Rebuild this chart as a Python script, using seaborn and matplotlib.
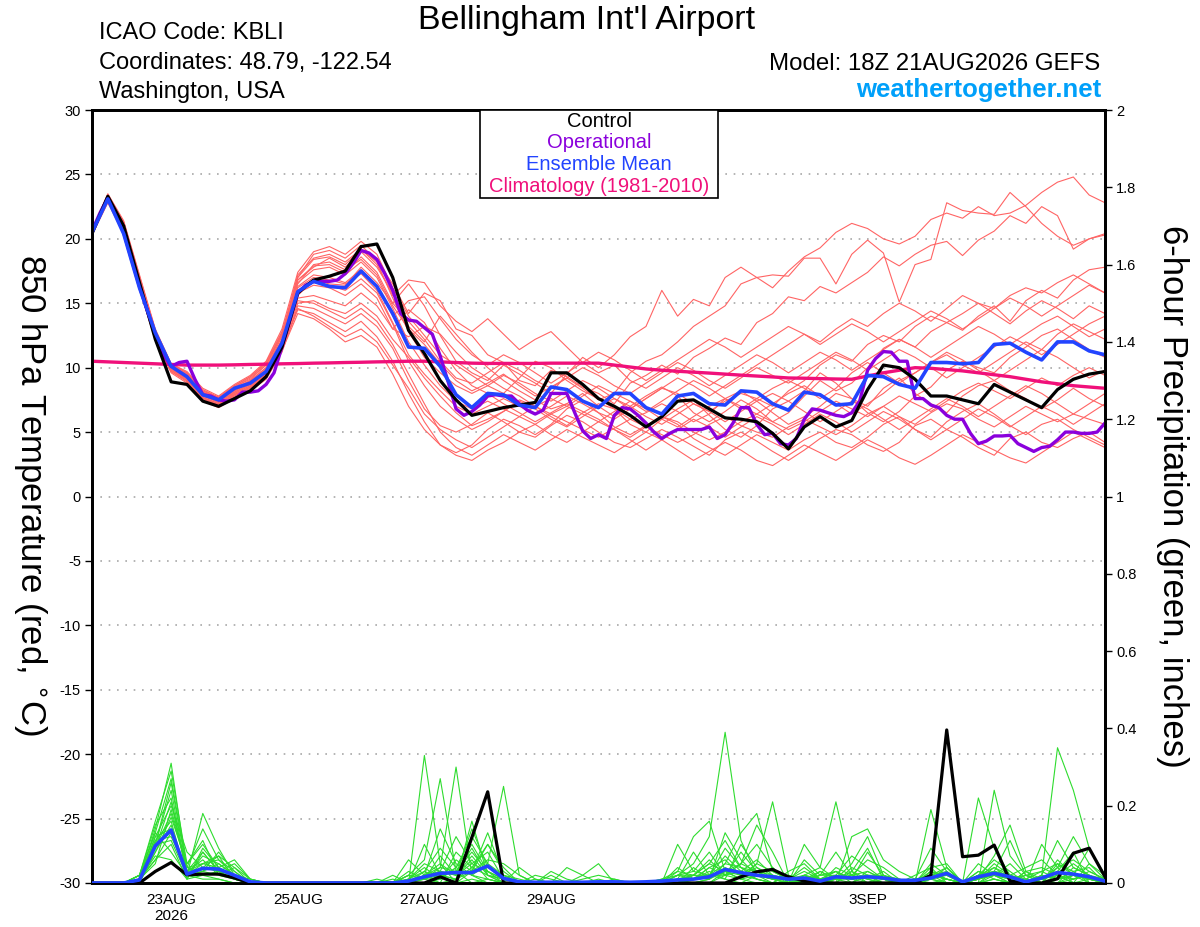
import numpy as np
import pandas as pd
import matplotlib
matplotlib.use("Agg")
import matplotlib.pyplot as plt
from matplotlib.patches import Rectangle
from matplotlib.ticker import FuncFormatter, MultipleLocator
import seaborn as sns

# ==========================================
# 1. Data (GEFS 18Z 21AUG2026, KBLI)
# ==========================================
RUN_START = "2026-08-21 18:00"
N_STEPS = 65   # 6-hourly, 16 days
N_OPER = 129   # operational run is 3-hourly

TICK_DAYS = ["2026-08-23", "2026-08-25", "2026-08-27", "2026-08-29",
             "2026-09-01", "2026-09-03", "2026-09-05"]
TICK_LABELS = ["23AUG\n2026", "25AUG", "27AUG", "29AUG", "1SEP", "3SEP", "5SEP"]

# 850 hPa temperature (C)
CONTROL_TEMP = [
    20.4, 23.3, 21.0, 16.6, 12.2, 8.9, 8.7, 7.4, 7.0, 7.6, 8.2, 9.3, 11.6,
    15.8, 16.8, 17.1, 17.5, 19.4, 19.6, 17.0, 12.9, 11.1, 9.0, 7.5, 6.3,
    6.6, 6.9, 7.1, 7.3, 9.6, 9.6, 8.7, 7.6, 7.0, 6.3, 5.4, 6.2, 7.4, 7.5, 6.8, 6.1, 6.0, 5.8, 4.9, 3.7,
    5.4, 6.2, 5.4, 5.9, 8.3, 10.2, 10.0, 9.1, 7.8, 7.8, 7.5, 7.2, 8.7, 8.1, 7.5, 6.9, 8.3, 9.1, 9.5, 9.7,
]
ENS_MEAN_TEMP = [
    20.5, 23.1, 20.4, 16.2, 12.7, 10.1, 9.3, 7.9, 7.5, 8.4, 8.8, 9.7, 11.9,
    15.9, 16.7, 16.3, 16.2, 17.5, 16.3, 14.2, 11.6, 11.5, 10.1, 7.9, 6.9,
    8.0, 7.9, 7.1, 6.9, 8.5, 8.3, 7.4, 6.9, 8.0, 8.0, 6.9, 6.4, 7.8, 8.0, 7.2, 7.1, 8.2, 8.1, 7.2, 6.7,
    8.1, 7.9, 7.1, 7.2, 9.4, 9.3, 8.7, 8.4, 10.4, 10.4, 10.3, 10.4, 11.8, 11.9, 11.2, 10.6, 12.0, 12.0, 11.3, 11.0,
]
OPER_TEMP = [
    20.6, 22.0, 23.2, 22.0, 20.5, 18.4, 16.3, 14.4, 12.5, 11.0,
    10.1, 10.4, 10.5, 9.1, 7.9, 7.8, 7.5, 7.4, 7.5, 8.1,
    8.1, 8.2, 8.7, 9.6, 11.6, 13.7, 15.8, 16.4, 16.7, 16.7,
    16.7, 16.8, 17.3, 18.1, 19.1, 18.9, 18.4, 17.3, 16.0, 14.2,
    13.7, 13.6, 13.1, 12.6, 10.9, 8.9, 6.8, 6.3, 6.6, 7.1,
    7.8, 7.9, 7.8, 7.8, 7.2, 6.7, 6.4, 6.7, 8.0, 8.0,
    8.0, 6.5, 5.1, 4.5, 4.8, 4.5, 6.3, 6.9, 6.8, 6.3,
    5.7, 5.0, 4.5, 4.9, 5.2, 5.2, 5.2, 5.2, 5.4, 4.5,
    4.8, 5.7, 6.9, 6.9, 5.6, 4.8, 4.9, 4.1, 4.0, 4.5,
    6.0, 6.8, 6.7, 6.5, 6.3, 6.2, 6.5, 7.4, 9.8, 10.7,
    11.25, 11.2, 10.5, 10.5, 7.6, 7.6, 7.1, 6.9, 6.3, 6.0,
    6.0, 4.9, 4.1, 4.3, 4.7, 4.7, 4.75, 4.1, 3.8, 3.5,
    3.8, 3.9, 4.4, 5.0, 5.0, 4.9, 4.9, 5.0, 5.7,
]
CLIM_TEMP = [
    10.5, 10.45, 10.4, 10.35, 10.3, 10.25, 10.2, 10.2, 10.2, 10.22, 10.25, 10.27, 10.3,
    10.32, 10.35, 10.37, 10.4, 10.42, 10.45, 10.47, 10.5, 10.5, 10.45, 10.4, 10.35,
    10.33, 10.33, 10.33, 10.33, 10.35, 10.35, 10.35, 10.35, 10.2, 10.05, 9.9, 9.8, 9.72, 9.65, 9.58,
    9.5, 9.42, 9.35, 9.28, 9.2,
    9.18, 9.15, 9.12, 9.1, 9.35, 9.6, 9.8, 10.0, 9.95, 9.85, 9.75, 9.6, 9.45, 9.3, 9.1,
    8.9, 8.75, 8.6, 8.5, 8.4,
]
MEMBER_TEMP = [
    [20.6, 23.4, 21.3, 17.0, 12.9, 10.3, 9.6, 8.3, 7.7, 8.6, 9.3, 10.4, 12.8,
     16.5, 18.0, 18.2, 17.6, 18.4, 17.2, 14.8, 13.0, 11.8, 10.3, 9.0, 8.2,
     8.8, 9.5, 8.6, 7.8, 8.5, 9.2, 8.4, 7.5, 8.0, 9.6, 10.5, 11.0, 12.0, 13.2, 14.0, 14.8, 16.5, 17.0, 16.2, 17.5,
     18.6, 19.3, 20.5, 21.2, 20.8, 20.0, 19.6, 20.2, 21.5, 22.0, 21.6, 22.5, 21.8, 22.0, 22.6, 23.6, 24.4, 24.8, 23.4, 22.8],
    [20.4, 23.0, 20.8, 16.6, 12.5, 10.0, 9.2, 7.9, 7.3, 8.1, 8.7, 9.7, 11.8,
     15.6, 16.8, 16.5, 16.4, 17.8, 16.6, 15.0, 16.5, 14.8, 12.5, 10.5, 9.6,
     9.0, 10.2, 9.5, 8.8, 8.0, 9.5, 10.8, 10.0, 11.0, 12.4, 13.2, 16.0, 14.0, 15.3, 14.8, 17.0, 17.8, 17.0, 17.2, 17.1,
     18.5, 18.5, 16.5, 18.8, 19.9, 18.9, 15.1, 18.0, 18.4, 22.8, 22.2, 22.0, 21.9, 23.6, 22.5, 21.2, 20.2, 19.5, 20.0, 20.3],
    [20.5, 23.3, 21.0, 16.9, 12.7, 10.1, 9.5, 8.1, 7.6, 8.5, 9.1, 10.2, 12.5,
     17.0, 18.8, 19.1, 18.5, 19.5, 18.3, 16.5, 14.2, 15.8, 15.2, 13.0, 12.5,
     11.0, 10.4, 9.0, 8.6, 9.8, 9.3, 8.5, 8.0, 7.2, 8.8, 9.4, 10.2, 9.5, 10.8, 11.5, 12.3, 11.8, 13.5, 14.2, 15.5,
     15.2, 16.3, 15.8, 16.6, 17.4, 18.6, 17.9, 18.8, 19.5, 19.8, 18.7, 19.9, 20.6, 21.8, 21.2, 22.5, 21.8, 19.2, 20.0, 20.4],
    [20.3, 22.9, 20.5, 16.2, 12.2, 9.8, 9.0, 7.6, 7.1, 7.8, 8.4, 9.3, 11.4,
     14.5, 14.2, 13.5, 12.8, 13.6, 12.4, 10.5, 8.0, 5.8, 4.0, 3.2, 2.8,
     3.6, 4.2, 5.0, 4.6, 5.5, 6.3, 5.8, 5.0, 4.2, 3.8, 4.5, 5.2, 4.6, 3.9, 3.2, 4.4, 5.0, 4.3, 3.5, 2.8,
     3.6, 4.5, 5.2, 4.8, 4.0, 3.5, 4.2, 5.5, 6.0, 5.2, 4.6, 3.8, 3.2, 4.5, 5.0, 4.2, 3.8, 4.5, 5.0, 4.2],
    [20.6, 23.2, 21.1, 16.7, 12.6, 10.0, 9.3, 7.8, 7.4, 8.0, 8.6, 9.6, 11.9,
     16.8, 17.8, 18.5, 17.8, 19.0, 17.8, 15.8, 13.2, 12.0, 14.0, 12.6, 11.2,
     10.0, 9.0, 8.2, 7.5, 6.8, 7.2, 8.0, 7.0, 6.2, 7.0, 7.8, 8.5, 7.8, 6.5, 5.8, 6.6, 7.5, 6.8, 5.8, 6.5,
     7.8, 9.0, 8.2, 8.8, 10.0, 11.5, 12.2, 11.6, 12.8, 13.5, 12.9, 14.0, 14.8, 13.6, 15.2, 16.0, 15.4, 16.8, 17.6, 17.8],
    [20.4, 23.1, 20.9, 16.5, 12.4, 9.9, 9.2, 7.7, 7.2, 7.9, 8.5, 9.5, 11.6,
     15.0, 15.2, 14.6, 14.2, 15.0, 14.0, 12.2, 10.8, 9.2, 7.8, 6.5, 5.5,
     6.0, 6.6, 7.5, 7.0, 6.2, 5.5, 6.5, 7.2, 6.8, 5.6, 5.0, 6.0, 6.8, 7.5, 6.3, 5.2, 4.6, 5.5, 6.8, 7.4,
     8.2, 9.6, 8.8, 7.6, 7.0, 8.4, 9.2, 8.0, 7.2, 6.5, 7.8, 8.6, 9.0, 8.2, 7.6, 6.8, 7.5, 8.4, 7.6, 7.0],
    [20.7, 23.5, 21.4, 17.2, 13.0, 10.3, 9.7, 8.4, 7.8, 8.7, 9.4, 10.5, 13.0,
     17.4, 19.0, 19.4, 18.8, 19.8, 18.8, 16.2, 14.0, 12.5, 11.0, 10.2, 9.4,
     8.6, 8.0, 9.2, 10.5, 10.0, 9.0, 8.2, 7.6, 6.8, 6.0, 6.5, 7.2, 6.6, 5.8, 6.4, 7.6, 8.2, 7.4, 6.5, 5.6,
     6.2, 7.0, 8.0, 7.6, 6.5, 5.8, 6.6, 7.8, 8.5, 9.8, 10.5, 10.0, 9.6, 10.8, 11.6, 12.5, 13.0, 12.2, 11.4, 10.8],
    [20.5, 23.1, 20.7, 16.4, 12.3, 9.7, 8.9, 7.5, 7.0, 7.7, 8.3, 9.2, 11.3,
     14.2, 13.8, 13.0, 12.0, 12.5, 11.6, 9.5, 7.0, 5.2, 4.0, 3.4, 4.0,
     5.2, 6.0, 5.5, 4.8, 5.6, 6.8, 7.5, 6.5, 5.4, 4.8, 5.5, 6.2, 5.6, 4.5, 3.8, 3.2, 4.0, 4.8, 4.2, 3.6,
     4.4, 5.0, 4.2, 3.8, 4.6, 5.6, 6.2, 5.2, 4.6, 5.8, 6.6, 7.2, 6.4, 5.5, 4.8, 5.6, 6.0, 5.2, 4.6, 4.0],
    [20.6, 23.3, 21.0, 16.8, 12.7, 10.1, 9.4, 8.0, 7.5, 8.3, 9.0, 10.0, 12.2,
     16.2, 17.0, 16.8, 16.5, 17.3, 16.0, 13.5, 11.0, 9.5, 8.2, 7.0, 6.4,
     7.0, 7.6, 7.0, 6.4, 7.0, 7.8, 7.2, 6.5, 6.0, 6.8, 7.6, 8.4, 8.0, 7.2, 6.6, 7.4, 8.0, 7.6, 7.0, 8.2,
     9.0, 10.2, 11.0, 10.5, 11.8, 12.5, 12.0, 13.2, 14.0, 13.5, 14.2, 15.0, 14.6, 15.6, 16.2, 15.8, 16.6, 17.2, 16.5, 15.8],
    [20.3, 22.8, 20.4, 16.1, 12.1, 9.6, 8.8, 7.4, 6.9, 7.6, 8.2, 9.1, 11.2,
     14.8, 14.6, 14.0, 13.4, 14.2, 13.2, 11.5, 9.0, 6.8, 5.5, 5.0, 5.6,
     6.5, 5.8, 5.0, 5.6, 6.4, 5.8, 5.2, 4.6, 5.3, 6.0, 5.4, 4.8, 4.2, 4.8, 5.6, 6.2, 5.5, 5.0, 4.6, 5.4,
     6.0, 5.4, 4.8, 5.5, 6.4, 7.0, 6.2, 5.6, 6.5, 7.2, 6.8, 6.0, 5.4, 6.2, 7.0, 6.4, 5.8, 6.4, 6.0, 5.6],
    [20.5, 23.2, 20.9, 16.6, 12.6, 10.0, 9.3, 7.9, 7.4, 8.2, 8.8, 9.8, 12.1,
     16.6, 17.6, 17.8, 17.2, 18.2, 17.0, 14.6, 12.0, 10.2, 8.6, 7.4, 6.8,
     7.4, 6.8, 6.2, 7.0, 7.6, 7.0, 6.4, 5.8, 6.6, 7.4, 6.8, 6.0, 5.4, 6.2, 7.0, 7.6, 7.0, 6.4, 7.2, 8.0,
     8.6, 7.8, 7.2, 6.4, 7.2, 8.0, 9.0, 9.6, 10.4, 11.0, 10.2, 9.6, 10.4, 11.2, 12.0, 11.4, 12.6, 13.4, 12.8, 12.2],
    [20.4, 23.0, 20.6, 16.3, 12.4, 9.9, 9.1, 7.7, 7.2, 8.0, 8.6, 9.5, 11.7,
     15.4, 15.6, 15.2, 14.8, 15.8, 14.8, 13.0, 14.5, 13.5, 11.5, 9.8, 8.6,
     8.0, 7.2, 6.5, 5.8, 6.5, 7.2, 6.6, 6.0, 5.2, 4.6, 5.4, 6.2, 5.8, 5.0, 4.4, 5.0, 5.8, 6.4, 5.8, 5.2,
     5.8, 6.6, 7.4, 6.8, 6.2, 7.0, 7.8, 7.2, 6.6, 7.4, 8.2, 8.8, 8.2, 7.6, 8.4, 9.2, 8.6, 9.4, 10.0, 9.4],
    [20.6, 23.4, 21.2, 17.0, 12.8, 10.2, 9.6, 8.2, 7.7, 8.5, 9.2, 10.2, 12.6,
     17.2, 18.5, 18.8, 18.2, 19.2, 18.0, 15.6, 16.8, 16.6, 14.8, 13.6, 12.8,
     13.8, 12.6, 11.4, 12.2, 12.8, 11.6, 10.4, 9.6, 10.2, 9.0, 8.4, 9.2, 10.0, 9.4, 8.6, 9.4, 10.2, 11.0, 10.4, 9.6,
     10.4, 11.2, 10.6, 9.8, 10.6, 11.4, 12.2, 11.6, 10.8, 11.6, 12.4, 13.2, 12.6, 11.8, 12.6, 13.4, 14.0, 13.2, 12.4, 13.0],
    [20.5, 23.2, 21.0, 16.7, 12.6, 10.1, 9.4, 8.0, 7.5, 8.3, 8.9, 9.9, 12.1,
     15.8, 16.4, 16.2, 15.6, 16.5, 15.4, 13.0, 12.4, 13.2, 12.6, 11.2, 10.0,
     9.2, 8.4, 7.8, 7.0, 6.4, 7.0, 7.8, 8.6, 8.0, 7.4, 6.6, 7.4, 8.2, 9.0, 8.4, 7.6, 6.8, 7.6, 8.4, 9.0,
     8.4, 7.6, 8.4, 9.6, 10.4, 9.6, 8.8, 9.6, 10.4, 11.2, 10.6, 9.8, 9.0, 9.8, 10.6, 11.4, 10.8, 10.0, 9.2, 9.8],
    [20.4, 22.9, 20.6, 16.3, 12.2, 9.7, 9.0, 7.6, 7.1, 7.9, 8.5, 9.4, 11.5,
     15.2, 15.0, 14.4, 13.8, 14.6, 13.6, 11.8, 9.5, 7.2, 5.0, 3.8, 3.2,
     4.0, 4.8, 4.2, 3.6, 4.4, 5.2, 4.6, 4.0, 3.4, 4.2, 5.0, 4.4, 3.6, 2.8, 3.5, 4.2, 3.6, 2.8, 2.4, 3.2,
     4.0, 3.4, 2.8, 3.6, 4.4, 3.8, 3.0, 2.5, 3.2, 4.0, 4.8, 4.2, 3.6, 3.0, 2.6, 3.4, 4.2, 5.0, 4.4, 3.8],
    [20.6, 23.3, 21.1, 16.9, 12.7, 10.1, 9.4, 8.1, 7.6, 8.4, 9.0, 10.0, 12.4,
     16.8, 17.9, 18.0, 17.4, 18.6, 17.4, 15.0, 13.6, 12.2, 10.5, 9.2, 8.8,
     9.6, 10.4, 9.8, 9.0, 8.4, 9.2, 10.0, 9.4, 8.6, 8.0, 8.8, 9.6, 10.4, 9.8, 9.0, 8.4, 9.2, 10.0, 9.4, 8.8,
     9.6, 10.4, 11.2, 10.6, 9.8, 10.6, 11.4, 10.8, 10.0, 9.2, 10.0, 10.8, 11.6, 12.4, 11.8, 11.0, 11.8, 12.6, 13.4, 14.0],
    [20.5, 23.1, 20.8, 16.5, 12.5, 9.9, 9.2, 7.8, 7.3, 8.1, 8.7, 9.6, 11.8,
     15.9, 16.6, 16.4, 16.0, 16.9, 15.8, 13.4, 10.5, 8.6, 7.0, 6.0, 5.2,
     5.8, 6.6, 7.4, 6.8, 6.0, 5.4, 6.2, 7.0, 7.6, 7.0, 6.2, 5.6, 6.4, 7.2, 6.6, 5.8, 6.6, 7.4, 8.0, 7.4,
     6.6, 5.8, 6.6, 7.4, 6.8, 6.0, 5.2, 6.0, 6.8, 7.6, 7.0, 6.2, 7.0, 7.8, 8.6, 8.0, 7.2, 6.4, 7.2, 8.0],
    [20.7, 23.4, 21.3, 17.1, 12.9, 10.2, 9.5, 8.2, 7.7, 8.6, 9.3, 10.3, 12.7,
     17.0, 18.4, 18.6, 18.0, 19.2, 18.2, 15.4, 12.8, 10.8, 9.6, 8.6, 8.0,
     8.6, 9.4, 8.8, 8.0, 7.4, 8.2, 9.0, 8.4, 7.6, 6.8, 7.6, 8.4, 9.2, 8.6, 7.8, 8.6, 9.4, 10.2, 11.0, 11.8,
     12.6, 12.0, 13.0, 13.8, 13.2, 14.2, 15.0, 14.4, 13.6, 14.6, 15.6, 15.0, 14.2, 13.4, 14.4, 15.2, 14.6, 13.8, 14.8, 14.2],
    [20.4, 23.0, 20.7, 16.4, 12.3, 9.8, 9.1, 7.6, 7.1, 7.9, 8.4, 9.4, 11.5,
     14.6, 14.0, 13.2, 12.4, 13.0, 12.0, 10.2, 8.4, 6.4, 5.2, 4.4, 3.8,
     4.6, 5.4, 6.2, 5.6, 4.8, 4.2, 5.0, 5.8, 5.2, 4.4, 3.6, 4.4, 5.2, 6.0, 5.4, 4.6, 5.4, 6.2, 5.6, 4.8,
     5.6, 6.4, 5.8, 5.0, 5.8, 6.6, 6.0, 5.2, 4.4, 5.2, 6.0, 6.8, 6.2, 5.4, 6.2, 7.0, 6.4, 5.6, 6.4, 7.2],
    [20.5, 23.2, 20.9, 16.6, 12.5, 10.0, 9.3, 7.9, 7.4, 8.2, 8.8, 9.8, 12.0,
     16.3, 17.2, 17.0, 16.6, 17.6, 16.4, 14.0, 15.2, 15.5, 13.8, 12.2, 11.0,
     10.2, 11.0, 10.4, 9.6, 8.8, 9.6, 10.4, 11.2, 10.6, 9.8, 9.0, 9.8, 10.6, 11.4, 12.2, 11.6, 10.8, 11.6, 12.4, 13.2,
     12.6, 11.8, 12.6, 13.4, 12.8, 12.0, 12.8, 13.6, 14.4, 13.8, 13.0, 13.8, 14.6, 15.4, 14.8, 14.0, 14.8, 15.6, 16.4, 15.8],
]

# 6-hour precipitation (inches)
CONTROL_PRECIP = [
    0, 0, 0, 0, 0.03, 0.053, 0.021, 0.023, 0.023, 0.013, 0, 0, 0,
    0, 0, 0, 0, 0, 0, 0, 0, 0, 0.016, 0, 0.118, 0.236,
    0, 0, 0, 0, 0, 0, 0, 0, 0, 0, 0, 0, 0,
    0, 0, 0.016, 0.029, 0.035, 0.016, 0.005, 0, 0, 0, 0, 0, 0,
    0, 0.02, 0.396, 0.068, 0.072, 0.098, 0.005, 0, 0, 0.011, 0.077, 0.09, 0.016,
]
ENS_MEAN_PRECIP = [
    0, 0, 0, 0.008, 0.096, 0.137, 0.023, 0.038, 0.036, 0.02, 0.003, 0, 0,
    0, 0, 0, 0, 0, 0, 0, 0.005, 0.016, 0.025, 0.027, 0.027, 0.044,
    0.012, 0.003, 0.002, 0.002, 0.002, 0.002, 0.003, 0.003, 0.002, 0.003, 0.005, 0.008, 0.01,
    0.016, 0.035, 0.027, 0.02, 0.016, 0.01, 0.013, 0.005, 0.016, 0.013, 0.016, 0.013, 0.007,
    0.007, 0.013, 0.025, 0.003, 0.016, 0.025, 0.016, 0.003, 0.013, 0.027, 0.023, 0.016, 0.005,
]
MEMBER_PRECIP = [
    [0, 0, 0, 0.01, 0.14, 0.31, 0.03, 0.02, 0.01, 0, 0, 0, 0,
     0, 0, 0, 0, 0, 0, 0, 0, 0.33, 0.05, 0, 0.01, 0,
     0, 0, 0, 0, 0, 0, 0, 0, 0, 0, 0, 0.02, 0.05,
     0.12, 0.39, 0.11, 0.02, 0, 0, 0, 0.01, 0.03, 0, 0, 0.02, 0,
     0, 0, 0, 0, 0.01, 0.04, 0.02, 0, 0, 0.05, 0.02, 0, 0],
    [0, 0, 0, 0.02, 0.16, 0.29, 0.05, 0.10, 0.04, 0.01, 0, 0, 0,
     0, 0, 0, 0, 0, 0, 0, 0.02, 0.06, 0.27, 0.03, 0, 0.01,
     0, 0, 0, 0, 0, 0, 0, 0, 0, 0, 0, 0.10, 0.03,
     0.02, 0.05, 0.13, 0.18, 0.03, 0.01, 0, 0, 0, 0, 0.02, 0, 0,
     0, 0.03, 0.02, 0, 0, 0.24, 0.07, 0.02, 0, 0, 0.01, 0.02, 0],
    [0, 0, 0, 0, 0.10, 0.24, 0.02, 0.18, 0.09, 0.02, 0, 0, 0,
     0, 0, 0, 0, 0, 0, 0, 0, 0.02, 0.04, 0.30, 0.02, 0,
     0, 0.04, 0.01, 0, 0, 0, 0, 0, 0, 0, 0, 0, 0.01,
     0.04, 0.02, 0.01, 0.05, 0.21, 0.02, 0, 0, 0.01, 0.05, 0.12, 0.02, 0,
     0, 0.01, 0, 0, 0.03, 0.02, 0, 0, 0.02, 0.35, 0.24, 0.09, 0.02],
    [0, 0, 0, 0.01, 0.12, 0.20, 0.08, 0.04, 0.03, 0.05, 0.01, 0, 0,
     0, 0, 0, 0, 0, 0, 0, 0, 0, 0.01, 0.04, 0.12, 0.05,
     0.25, 0.02, 0, 0, 0, 0, 0, 0, 0, 0, 0, 0, 0,
     0, 0.02, 0.05, 0.10, 0.04, 0, 0.10, 0.04, 0.21, 0.03, 0, 0.01, 0,
     0, 0.02, 0.01, 0, 0, 0.01, 0, 0, 0.10, 0.04, 0, 0, 0],
    [0, 0, 0, 0.02, 0.15, 0.22, 0.02, 0.01, 0.01, 0, 0, 0, 0,
     0, 0, 0, 0, 0, 0, 0, 0.06, 0.02, 0, 0.01, 0.16, 0.02,
     0, 0, 0, 0, 0, 0, 0, 0, 0, 0, 0.01, 0.03, 0.12,
     0.16, 0.03, 0.01, 0, 0, 0, 0.02, 0.01, 0, 0.12, 0.14, 0.06, 0.03,
     0.01, 0, 0, 0, 0.22, 0.09, 0.02, 0, 0.01, 0.03, 0.08, 0, 0],
    [0, 0, 0, 0.01, 0.09, 0.18, 0.04, 0.14, 0.06, 0.03, 0, 0, 0,
     0, 0, 0, 0, 0, 0, 0, 0, 0.10, 0.02, 0, 0.03, 0.10,
     0.04, 0, 0, 0, 0, 0, 0, 0, 0, 0, 0, 0, 0.02,
     0.05, 0.11, 0.04, 0.01, 0, 0.02, 0, 0, 0.02, 0.01, 0, 0, 0,
     0, 0.19, 0.04, 0, 0, 0.01, 0, 0.03, 0.01, 0, 0.02, 0.09, 0.02],
    [0, 0, 0, 0, 0.08, 0.15, 0.02, 0.05, 0.07, 0.01, 0, 0, 0,
     0, 0, 0, 0, 0, 0, 0, 0.01, 0.03, 0.09, 0.04, 0.10, 0.03,
     0.01, 0, 0, 0.03, 0.01, 0, 0, 0, 0, 0, 0, 0.01, 0,
     0, 0.03, 0.05, 0.15, 0.08, 0, 0.06, 0.02, 0.03, 0.01, 0.08, 0.02, 0,
     0, 0.01, 0.04, 0, 0.01, 0.07, 0.15, 0.03, 0, 0, 0.04, 0.02, 0.01],
    [0, 0, 0, 0.01, 0.11, 0.12, 0.03, 0.06, 0.02, 0.02, 0, 0, 0,
     0, 0, 0, 0, 0, 0, 0.01, 0, 0.02, 0.03, 0.12, 0.05, 0.08,
     0.01, 0, 0.02, 0.01, 0, 0, 0, 0, 0, 0, 0, 0.04, 0.01,
     0.02, 0.07, 0.03, 0.01, 0, 0, 0.02, 0, 0.01, 0.02, 0.06, 0.04, 0.01,
     0, 0.01, 0, 0, 0.02, 0.03, 0.01, 0, 0.02, 0.11, 0.04, 0.02, 0],
    [0, 0, 0, 0.01, 0.06, 0.10, 0.01, 0.09, 0.04, 0.06, 0.01, 0, 0,
     0, 0, 0, 0, 0, 0, 0, 0.02, 0.01, 0.07, 0.02, 0.06, 0.01,
     0, 0, 0, 0, 0.04, 0.02, 0, 0, 0, 0, 0, 0.01, 0.02,
     0.06, 0.02, 0.08, 0.03, 0.01, 0, 0.01, 0, 0.04, 0.02, 0, 0, 0.01,
     0, 0.05, 0.02, 0, 0.01, 0.05, 0.02, 0.04, 0.06, 0.02, 0, 0.01, 0],
    [0, 0, 0, 0.02, 0.13, 0.08, 0.02, 0.03, 0.08, 0.03, 0, 0, 0,
     0, 0, 0, 0, 0, 0, 0, 0.01, 0.04, 0.01, 0.06, 0.03, 0.13,
     0.02, 0.01, 0, 0, 0, 0.02, 0.05, 0, 0, 0, 0, 0, 0,
     0.01, 0.04, 0.02, 0.05, 0.03, 0.01, 0.03, 0.01, 0, 0.04, 0.02, 0.01, 0,
     0, 0.03, 0.01, 0, 0, 0.02, 0.05, 0.01, 0.03, 0.05, 0.03, 0, 0],
    [0, 0, 0, 0.01, 0.07, 0.06, 0.01, 0.02, 0.03, 0.02, 0.01, 0, 0,
     0, 0, 0, 0, 0, 0, 0, 0, 0.01, 0.02, 0.01, 0.04, 0.02,
     0.01, 0, 0.01, 0, 0, 0, 0.01, 0, 0, 0, 0, 0.02, 0.01,
     0.03, 0.01, 0, 0.02, 0.04, 0, 0.01, 0, 0.01, 0.03, 0.01, 0, 0,
     0, 0.02, 0, 0, 0.03, 0.01, 0, 0.02, 0.01, 0.03, 0.01, 0.03, 0.01],
    [0, 0, 0, 0.01, 0.05, 0.19, 0.04, 0.03, 0.05, 0.02, 0, 0, 0,
     0, 0, 0, 0, 0, 0, 0.02, 0, 0, 0.02, 0.03, 0.08, 0.03,
     0, 0, 0, 0.02, 0, 0, 0, 0, 0, 0, 0, 0, 0.04,
     0.01, 0.13, 0.06, 0.02, 0.01, 0, 0, 0.03, 0.01, 0, 0.03, 0.01, 0,
     0.01, 0.09, 0.03, 0, 0, 0.03, 0.11, 0.02, 0, 0.02, 0.05, 0.02, 0],
    [0, 0, 0, 0.02, 0.10, 0.26, 0.03, 0.08, 0.03, 0.01, 0, 0, 0,
     0, 0, 0, 0, 0, 0, 0, 0, 0.02, 0.14, 0.05, 0.02, 0.01,
     0, 0, 0, 0, 0, 0, 0, 0, 0, 0, 0, 0.01, 0.08,
     0.02, 0.01, 0.10, 0.04, 0.01, 0.02, 0.01, 0.02, 0.08, 0.02, 0.01, 0.03, 0,
     0, 0, 0.01, 0, 0.05, 0.02, 0.01, 0, 0, 0.04, 0.12, 0.05, 0.02],
    [0, 0, 0, 0.01, 0.08, 0.17, 0.05, 0.11, 0.02, 0.01, 0, 0, 0,
     0, 0, 0, 0, 0, 0, 0, 0.03, 0.01, 0, 0.08, 0.04, 0.10,
     0.03, 0, 0, 0, 0, 0, 0, 0.01, 0, 0, 0, 0, 0.01,
     0.04, 0.06, 0.02, 0.01, 0, 0.03, 0.05, 0.01, 0, 0.03, 0.09, 0.01, 0,
     0.02, 0.04, 0, 0, 0.01, 0.03, 0.02, 0.01, 0, 0.01, 0.03, 0.04, 0],
    [0, 0, 0, 0.01, 0.12, 0.14, 0.02, 0.04, 0.07, 0.04, 0, 0, 0,
     0, 0, 0, 0, 0, 0.01, 0, 0, 0.02, 0.05, 0.02, 0.14, 0.04,
     0.02, 0, 0, 0, 0, 0, 0, 0, 0, 0, 0, 0.02, 0.03,
     0.08, 0.02, 0.03, 0.06, 0.02, 0.01, 0, 0.02, 0.02, 0.01, 0.02, 0.02, 0.01,
     0, 0.02, 0.03, 0, 0.02, 0.06, 0.03, 0, 0.02, 0.01, 0.02, 0.01, 0],
    [0, 0, 0, 0.01, 0.09, 0.21, 0.02, 0.07, 0.05, 0.02, 0, 0, 0,
     0, 0, 0, 0, 0, 0, 0, 0.01, 0.05, 0.03, 0.02, 0.07, 0.02,
     0.01, 0, 0, 0, 0, 0.01, 0.02, 0.01, 0, 0, 0, 0.03, 0.02,
     0.01, 0.05, 0.04, 0.02, 0.01, 0, 0.02, 0.04, 0.01, 0.02, 0.03, 0.01, 0,
     0, 0.04, 0.05, 0, 0.01, 0.02, 0, 0.03, 0.04, 0.02, 0, 0.05, 0.01],
    [0, 0, 0, 0.01, 0.06, 0.13, 0.03, 0.05, 0.04, 0.02, 0, 0, 0,
     0, 0, 0, 0, 0, 0, 0, 0, 0, 0.02, 0.01, 0.03, 0.06,
     0.05, 0.02, 0, 0, 0, 0, 0, 0, 0, 0, 0.01, 0.02, 0.02,
     0.05, 0.03, 0.01, 0.02, 0.01, 0.01, 0.04, 0.01, 0.02, 0.07, 0.04, 0.01, 0,
     0.01, 0.02, 0.04, 0, 0.02, 0.04, 0.01, 0.01, 0, 0.06, 0.02, 0.01, 0],
    [0, 0, 0, 0.02, 0.13, 0.27, 0.04, 0.05, 0.06, 0.02, 0, 0, 0,
     0, 0, 0, 0, 0, 0, 0, 0, 0.01, 0.04, 0.03, 0.09, 0.02,
     0, 0, 0, 0, 0, 0, 0, 0, 0, 0, 0, 0.01, 0.02,
     0.02, 0.09, 0.04, 0.03, 0.02, 0.01, 0.02, 0.01, 0.03, 0.01, 0.02, 0.01, 0,
     0, 0.03, 0.01, 0, 0.02, 0.03, 0.02, 0, 0.01, 0.04, 0.06, 0.03, 0.01],
    [0, 0, 0, 0, 0.11, 0.16, 0.01, 0.08, 0.03, 0.01, 0, 0, 0,
     0, 0, 0, 0, 0, 0, 0, 0.02, 0.01, 0.03, 0.02, 0.05, 0.03,
     0.01, 0, 0, 0, 0, 0, 0, 0, 0, 0, 0, 0, 0.01,
     0.02, 0.02, 0.05, 0.03, 0.01, 0, 0.01, 0.03, 0.01, 0.02, 0.01, 0, 0,
     0, 0.01, 0.02, 0, 0.01, 0.02, 0.01, 0.02, 0.03, 0.01, 0.02, 0.01, 0],
    [0, 0, 0, 0.01, 0.10, 0.11, 0.02, 0.03, 0.02, 0.04, 0.01, 0, 0,
     0, 0, 0, 0, 0, 0, 0, 0, 0.03, 0.01, 0.04, 0.02, 0.05,
     0.02, 0, 0, 0, 0, 0, 0, 0, 0, 0, 0, 0, 0,
     0.01, 0.03, 0.02, 0.04, 0.02, 0, 0.02, 0, 0.01, 0.01, 0.02, 0.01, 0,
     0, 0.02, 0.01, 0, 0.01, 0.03, 0.01, 0, 0.01, 0.02, 0.01, 0.02, 0],
]

# colours
C_MEMBER_T = "#ff6464"
C_MEMBER_P = "#2edc2e"
C_CONTROL = "black"
C_OPER = "#8a00dc"
C_MEAN = "#2244ff"
C_CLIM = "#f0107a"
C_SITE = "#00a0fa"

# ==========================================
# 2. Frames
# ==========================================
times = pd.date_range(RUN_START, periods=N_STEPS, freq="6h")
oper_times = pd.date_range(RUN_START, periods=N_OPER, freq="3h")

for series in [CONTROL_TEMP, ENS_MEAN_TEMP, CLIM_TEMP, CONTROL_PRECIP, ENS_MEAN_PRECIP] + MEMBER_TEMP + MEMBER_PRECIP:
    assert len(series) == N_STEPS, len(series)
assert len(OPER_TEMP) == N_OPER, len(OPER_TEMP)


def members_frame(members):
    return pd.DataFrame({
        "time": np.tile(times.values, len(members)),
        "member": np.repeat(np.arange(len(members)), N_STEPS),
        "value": np.concatenate([np.asarray(m, dtype=float) for m in members]),
    })


temp_members = members_frame(MEMBER_TEMP)
precip_members = members_frame(MEMBER_PRECIP)

# ==========================================
# 3. Plot
# ==========================================
sns.set_style("white", {"axes.edgecolor": "black", "text.color": "black",
                        "xtick.color": "black", "ytick.color": "black",
                        "axes.labelcolor": "black"})
plt.rcParams["font.family"] = ["Liberation Sans", "DejaVu Sans"]
plt.rcParams["axes.unicode_minus"] = False

fig = plt.figure(figsize=(12, 9.27), dpi=100)
ax = fig.add_axes([92 / 1200, 44 / 927, 1013 / 1200, 773 / 927])
ax2 = ax.twinx()

# temperature
sns.lineplot(data=temp_members, x="time", y="value", units="member", estimator=None,
             color=C_MEMBER_T, lw=0.8, ax=ax, legend=False, zorder=2)
sns.lineplot(x=times, y=CLIM_TEMP, color=C_CLIM, lw=2.4, ax=ax, zorder=3)
sns.lineplot(x=oper_times, y=OPER_TEMP, color=C_OPER, lw=2.4, ax=ax, zorder=4)
sns.lineplot(x=times, y=CONTROL_TEMP, color=C_CONTROL, lw=2.3, ax=ax, zorder=5)
sns.lineplot(x=times, y=ENS_MEAN_TEMP, color=C_MEAN, lw=2.6, ax=ax, zorder=6)

# precipitation
sns.lineplot(data=precip_members, x="time", y="value", units="member", estimator=None,
             color=C_MEMBER_P, lw=0.8, ax=ax2, legend=False, zorder=2)
sns.lineplot(x=times, y=CONTROL_PRECIP, color=C_CONTROL, lw=2.3, ax=ax2, zorder=5)
sns.lineplot(x=times, y=ENS_MEAN_PRECIP, color=C_MEAN, lw=2.6, ax=ax2, zorder=6)

# axes
ax.set_xlim(times[0], times[-1])
ax.set_ylim(-30, 30)
ax2.set_ylim(0, 2)
ax.yaxis.set_major_locator(MultipleLocator(5))
ax2.yaxis.set_major_locator(MultipleLocator(0.2))
ax2.yaxis.set_major_formatter(FuncFormatter(lambda v, _: f"{v:g}"))
ax.set_xticks(pd.to_datetime(TICK_DAYS))
ax.set_xticklabels(TICK_LABELS)
ax.set_xlabel("")
ax.set_ylabel("")
ax2.set_ylabel("")

ax.yaxis.grid(True, linestyle=(0, (1, 4)), color="#a8a8a8", lw=1.2)
ax.xaxis.grid(False)
ax.tick_params(axis="x", bottom=True, length=0, labelsize=11, pad=7)
ax.tick_params(axis="y", left=True, direction="out", length=5, width=1, labelsize=10.5, pad=3)
ax2.tick_params(axis="y", right=True, direction="out", length=5, width=1, labelsize=10.5, pad=3)
for a in (ax, ax2):
    for sp in a.spines.values():
        sp.set_linewidth(2.0)
        sp.set_color("black")

# legend box
ax2.add_patch(Rectangle(((480 - 92) / 1013, (883 - 198) / 773), 238 / 1013, 88 / 773,
                        transform=ax2.transAxes, facecolor="white", edgecolor="black",
                        lw=1.2, zorder=10, clip_on=False))
legend_items = [("Control", C_CONTROL, 121), ("Operational", C_OPER, 142),
                ("Ensemble Mean", C_MEAN, 164), ("Climatology (1981-2010)", C_CLIM, 186)]
for label, color, ypix in legend_items:
    ax2.text(0.5005, (883 - ypix) / 773, label, color=color, fontsize=14.5,
             ha="center", va="center", transform=ax2.transAxes, zorder=11)

# header texts
fig.text(587 / 1200, 1 - 29.5 / 927, "Bellingham Int'l Airport", ha="center", va="baseline", fontsize=24.5)
fig.text(99 / 1200, 1 - 39 / 927, "ICAO Code: KBLI", ha="left", va="baseline", fontsize=17)
fig.text(99 / 1200, 1 - 68.5 / 927, "Coordinates: 48.79, -122.54", ha="left", va="baseline", fontsize=17)
fig.text(99 / 1200, 1 - 98 / 927, "Washington, USA", ha="left", va="baseline", fontsize=17)
fig.text(1100 / 1200, 1 - 70.5 / 927, "Model: 18Z 21AUG2026 GEFS", ha="right", va="baseline", fontsize=17.3)
fig.text(1101 / 1200, 1 - 96.5 / 927, "weathertogether.net", ha="right", va="baseline",
         fontsize=18.5, fontweight="bold", color=C_SITE)

# axis titles
fig.text(30 / 1200, 1 - 495 / 927, "850 hPa Temperature (red, $^{\\circ}$C)", rotation=270,
         ha="center", va="center", fontsize=25)
fig.text(1172 / 1200, 1 - 496 / 927, "6-hour Precipitation (green, inches)", rotation=270,
         ha="center", va="center", fontsize=25)

fig.savefig("out.png", dpi=100)
